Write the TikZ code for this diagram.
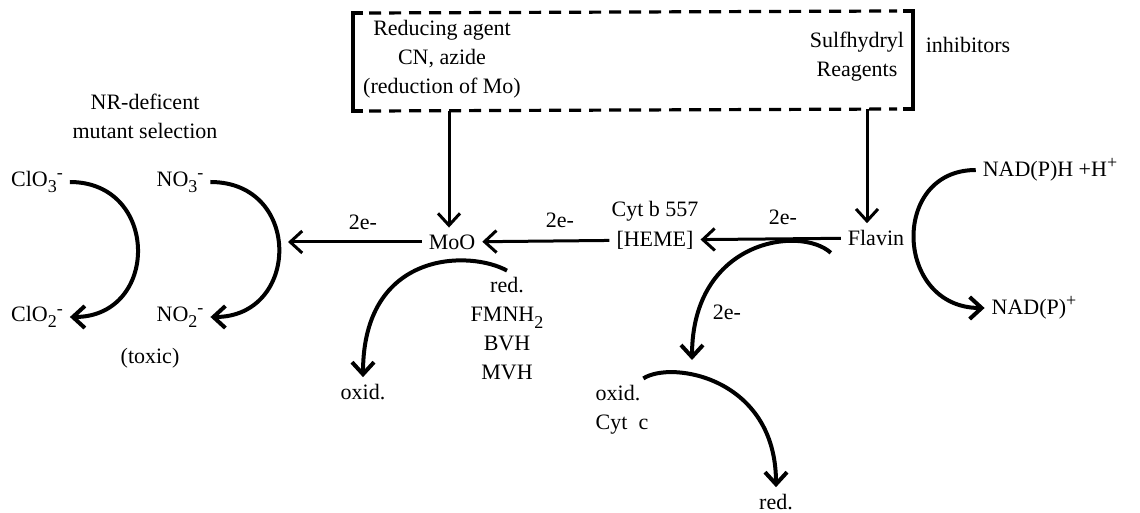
\documentclass[tikz,border=0pt]{standalone}
\usepackage{fontspec}
\setmainfont{Liberation Serif}
\usetikzlibrary{arrows.meta}
\newcommand{\lowtxt}[1]{\raisebox{-0.6ex}{\small #1}}
\newcommand{\hightxt}[1]{\raisebox{0.75ex}{\small #1}}

\begin{document}
\begin{tikzpicture}[x=0.5pt,y=-0.5pt,
  font=\fontsize{11}{14.5}\selectfont,
  arr/.style={line width=1.5pt,-{Straight Barb[length=6pt,width=11pt]}},
  curvearr/.style={line width=2pt,-{Straight Barb[length=6pt,width=11pt]}},
  boxline/.style={line width=1.6pt}]
\useasboundingbox (0,0) rectangle (1140,513);
  % inhibitor box
  \coordinate (TL) at (353,13); \coordinate (BL) at (353,111);
  \coordinate (TR) at (913,11); \coordinate (BR) at (913,109);
  \draw[boxline] ([xshift=5pt]TL) -- (TL) -- (BL) -- ([xshift=5pt]BL);
  \draw[boxline] ([xshift=-5pt]TR) -- (TR) -- (BR) -- ([xshift=-5pt]BR);
  \draw[boxline,dash pattern=on 6pt off 4pt] ([xshift=8pt]TL) -- ([xshift=-8pt]TR);
  \draw[boxline,dash pattern=on 6pt off 4pt] ([xshift=8pt]BL) -- ([xshift=-8pt]BR);
  \coordinate (BoxM) at (449,111); \coordinate (BoxF) at (867,109);

  \draw (442,59) node[align=center] (Red) {Reducing agent\\CN, azide\\(reduction of Mo)};
  \draw (857,57) node[align=center] (Sul) {Sulfhydryl\\Reagents};
  \draw (968,45) node (Inh) {inhibitors};
  \draw (145,116) node[align=center] (NRd) {NR-deficent\\mutant selection};

  \draw (37,182) node (ClOa) {ClO\lowtxt{3}\hightxt{-}};
  \draw (37,317) node (ClOb) {ClO\lowtxt{2}\hightxt{-}};
  \draw (180,182) node (NOa) {NO\lowtxt{3}\hightxt{-}};
  \draw (180,317) node (NOb) {NO\lowtxt{2}\hightxt{-}};
  \draw (150,358) node (Tox) {(toxic)};

  \draw (452,242) node (MoO) {MoO};
  \draw (655,211) node (Cyt) {Cyt b 557};
  \draw (655,240) node (Heme) {[HEME]};
  \draw (876,238) node (Flav) {Flavin};
  \draw (363,392) node (OxA) {oxid.};
  \draw (507,329) node[align=center] (RedA) {red.\\FMNH\lowtxt{2}\\BVH\\MVH};
  \draw (622,410) node[align=left] (CytC) {oxid.\\Cyt\ \ c};
  \draw (776,502) node (RedB) {red.};
  \draw (1050,170) node (NADH) {NAD(P)H +H\hightxt{+}};
  \draw (1034,308) node (NADP) {NAD(P)\hightxt{+}};

  \draw (363,222) node (Ea) {2e-};
  \draw (560,220) node (Eb) {2e-};
  \draw (783,217) node (Ec) {2e-};
  \draw (727,312) node (Ed) {2e-};

  \coordinate (NOin) at (288,242);
  \coordinate (CcIn) at (692,360);

  \draw[arr] (BoxM) -- (BoxM |- MoO.north);
  \draw[arr] (BoxF) -- (BoxF |- Flav.north);
  \draw[arr] (Flav) -- (Heme);
  \draw[arr] (Heme) -- (MoO);
  \draw[arr] (MoO) -- (NOin);

  \draw[curvearr] (ClOa.east) .. controls +(90,0) and +(90,0) .. (ClOb.east);
  \draw[curvearr] (NOa.east) .. controls +(92,0) and +(90,0) .. (NOb.east);
  \draw[curvearr] (RedA.north) .. controls (470,250) and (363,250) .. (OxA.north);
  \draw[curvearr] ([xshift=-5pt]Flav.south west) .. controls (800,225) and (692,240) .. (CcIn);
  \draw[curvearr] ([xshift=-6pt]CytC.north east) .. controls (672,360) and (776,378) .. (RedB.north);
  \draw[curvearr] (NADH.west) .. controls +(-86,0) and +(-90,0) .. (NADP.west);
\end{tikzpicture}
\end{document}
